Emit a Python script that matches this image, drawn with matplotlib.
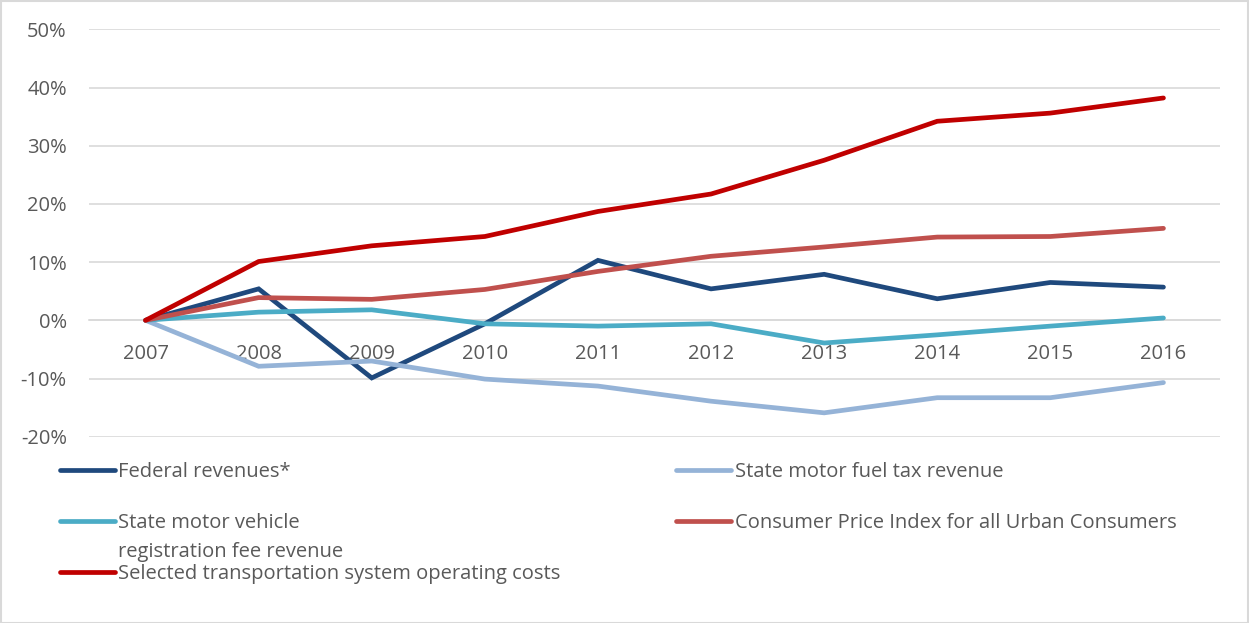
import matplotlib.pyplot as plt
from matplotlib.lines import Line2D
from matplotlib.patches import Rectangle
from matplotlib.ticker import FuncFormatter

plt.rcParams['font.family'] = ['Open Sans', 'DejaVu Sans']

years = ['2007', '2008', '2009', '2010', '2011', '2012', '2013', '2014', '2015', '2016']

federal = [0, 5.4, -9.9, -0.6, 10.3, 5.4, 7.9, 3.7, 6.5, 5.7]
fuel_tax = [0, -7.9, -7.0, -10.1, -11.3, -13.9, -15.9, -13.3, -13.3, -10.7]
vehicle_fee = [0, 1.4, 1.8, -0.6, -1.0, -0.6, -3.9, -2.5, -1.0, 0.4]
cpi = [0, 3.9, 3.6, 5.3, 8.4, 11.0, 12.6, 14.3, 14.4, 15.8]
operating = [0, 10.1, 12.8, 14.4, 18.7, 21.7, 27.5, 34.2, 35.6, 38.2]

series = [
    ('Federal revenues*', federal, '#1F497D'),
    ('State motor fuel tax revenue', fuel_tax, '#95B3D7'),
    ('State motor vehicle\nregistration fee revenue', vehicle_fee, '#4BACC6'),
    ('Consumer Price Index for all Urban Consumers', cpi, '#C0504D'),
    ('Selected transportation system operating costs', operating, '#C00000'),
]

W, H = 1249, 623
fig = plt.figure(figsize=(W / 100, H / 100), dpi=100)
ax = fig.add_axes([89 / W, 1 - 436.7 / H, (1220 - 89) / W, (436.7 - 29.3) / H])

xs = list(range(len(years)))
for label, vals, color in series:
    ax.plot(xs, vals, color=color, lw=3.4, solid_capstyle='round', solid_joinstyle='miter')

ax.set_xlim(-0.5, len(years) - 0.5)
ax.set_ylim(-20, 50)
ax.set_yticks(range(-20, 51, 10))
ax.yaxis.set_major_formatter(FuncFormatter(lambda v, p: f'{v:.0f}%'))
ax.set_xticks(xs)
ax.set_xticklabels(years)
ax.grid(axis='y', color='#D9D9D9', lw=1.2)
ax.set_axisbelow(True)
for s in ['left', 'right', 'top']:
    ax.spines[s].set_visible(False)
ax.spines['bottom'].set_position(('data', 0))
ax.spines['bottom'].set_color('#D9D9D9')
ax.spines['bottom'].set_linewidth(1.2)
ax.spines['bottom'].set_zorder(0.5)
ax.tick_params(axis='both', length=0, labelsize=14.5, colors='#595959')
ax.tick_params(axis='x', pad=17)
ax.tick_params(axis='y', pad=16)

# legend, laid out like the original
leg = [
    (0, 60, 470, 118),
    (1, 676, 470, 735),
    (2, 60, 521, 118),
    (3, 676, 521, 735),
    (4, 60, 572, 118),
]
for idx, hx, hy, tx in leg:
    label, vals, color = series[idx]
    fig.add_artist(Line2D([hx / W, (hx + 55) / W], [1 - hy / H, 1 - hy / H],
                          color=color, lw=3.4, solid_capstyle='round'))
    fig.text(tx / W, 1 - (hy - 8) / H, label, fontsize=14.5, color='#595959',
             va='top', ha='left', linespacing=1.6)

fig.add_artist(Rectangle((0.5 / W, 0.5 / H), 1 - 1.5 / W, 1 - 1.5 / H,
                         transform=fig.transFigure, fill=False,
                         edgecolor='#D9D9D9', lw=1.5))

fig.savefig('out.png', dpi=100)
